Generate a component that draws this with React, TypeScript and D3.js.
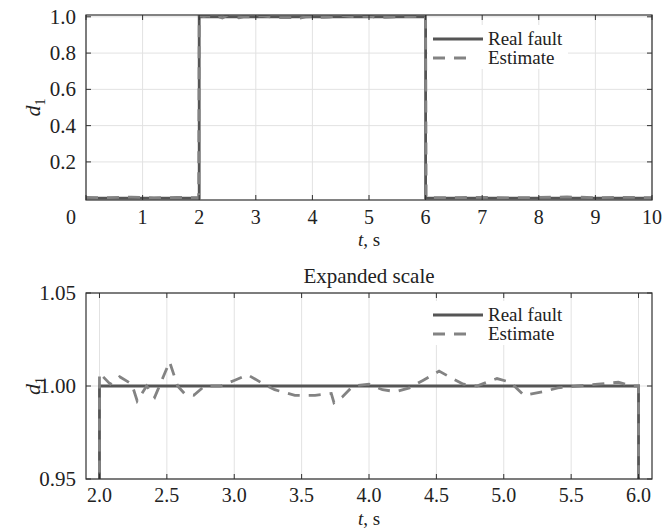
import React from "react";
import * as d3 from "d3";

const realT = [0, 2, 2, 6, 6, 10];
const realV = [0, 0, 1, 1, 0, 0];

const estT = [0, 0.4, 0.8, 1.2, 1.6, 1.99, 2.0, 2.08, 2.15, 2.24, 2.28, 2.35, 2.41, 2.52, 2.58, 2.63, 2.7, 2.78, 2.9, 3.0, 3.1, 3.22, 3.3, 3.45, 3.6, 3.72, 3.74, 3.8, 3.88, 4.0, 4.1, 4.2, 4.3, 4.4, 4.52, 4.62, 4.7, 4.8, 4.95, 5.05, 5.15, 5.3, 5.4, 5.55, 5.7, 5.85, 5.95, 6.0, 6.01, 6.5, 7, 7.5, 8, 8.5, 9, 9.5, 10];
const estV = [0.004, 0.003, 0.006, 0.002, 0.004, 0.003, 1.007, 1.001, 1.005, 1.001, 0.992, 1.0, 0.994, 1.013, 1.0, 0.996, 0.995, 1.0, 1.0, 1.003, 1.006, 1.001, 0.998, 0.995, 0.995, 0.996, 0.991, 0.994, 1.0, 1.001, 0.998, 0.997, 0.999, 1.003, 1.008, 1.004, 1.001, 1.0, 1.004, 1.002, 0.995, 0.997, 0.999, 1.0, 1.001, 1.002, 1.0, 1.0, 0.002, 0.003, 0.005, 0.002, 0.004, 0.007, 0.003, 0.005, 0.003];

const topXTicks = [0, 1, 2, 3, 4, 5, 6, 7, 8, 9, 10];
const topYTicks = [0.2, 0.4, 0.6, 0.8, 1.0];
const botXTicks = [2.0, 2.5, 3.0, 3.5, 4.0, 4.5, 5.0, 5.5, 6.0];
const botYTicks = [0.95, 1.0, 1.05];
const legendLabels = ["Real fault", "Estimate"];
const bottomTitle = "Expanded scale";

const FONT = "'Liberation Serif', Tinos, 'Times New Roman', Times, 'Nimbus Roman', FreeSerif, 'Noto Serif', 'DejaVu Serif', serif";
const REAL_COLOR = "#555555";
const EST_COLOR = "#838383";
const FRAME = "#303030";
const GRID = "#e2e2e2";

type PanelProps = {
  id: string;
  left: number; right: number; top: number; bottom: number;
  xDomain: [number, number]; yDomain: [number, number];
  xTicks: number[]; yTicks: number[];
  xFmt: (v: number) => string; yFmt: (v: number) => string;
  legendY: number;
  zeroShift?: boolean;
  tickDy: number; labelDy: number;
};

function Panel(p: PanelProps) {
  const x = d3.scaleLinear().domain(p.xDomain).range([p.left, p.right]);
  const y = d3.scaleLinear().domain(p.yDomain).range([p.bottom, p.top]);
  const line = d3.line<[number, number]>().x(d => x(d[0])).y(d => y(d[1]));
  const realPts = realT.map((t, i) => [t, realV[i]] as [number, number]);
  const estPts = estT.map((t, i) => [t, estV[i]] as [number, number]);
  const tick = 5;
  const lx = 433;
  return (
    <g>
      <defs>
        <clipPath id={p.id}>
          <rect x={p.left} y={p.top} width={p.right - p.left} height={p.bottom - p.top} />
        </clipPath>
      </defs>
      <rect x={p.left} y={p.top} width={p.right - p.left} height={p.bottom - p.top} fill="#fff" />
      {p.xTicks.map(v => (
        <line key={"gx" + v} x1={x(v)} x2={x(v)} y1={p.top} y2={p.bottom} stroke={GRID} strokeWidth={1} />
      ))}
      {p.yTicks.map(v => (
        <line key={"gy" + v} x1={p.left} x2={p.right} y1={y(v)} y2={y(v)} stroke={GRID} strokeWidth={1} />
      ))}
      <rect x={lx - 5} y={p.legendY - 14} width={140} height={44} fill="#fff" />
      <g clipPath={`url(#${p.id})`}>
        <path d={line(realPts) || ""} fill="none" stroke={REAL_COLOR} strokeWidth={2.8} />
        <path d={line(estPts) || ""} fill="none" stroke={EST_COLOR} strokeWidth={2.8} strokeDasharray="12,9" />
      </g>
      <line x1={lx} x2={lx + 50} y1={p.legendY} y2={p.legendY} stroke={REAL_COLOR} strokeWidth={2.8} />
      <line x1={lx} x2={lx + 40} y1={p.legendY + 19} y2={p.legendY + 19} stroke={EST_COLOR} strokeWidth={2.8} strokeDasharray="12,9" />
      <text x={lx + 55} y={p.legendY + 6} fontSize={19} fill="#222">{legendLabels[0]}</text>
      <text x={lx + 55} y={p.legendY + 25} fontSize={19} fill="#222">{legendLabels[1]}</text>
      <rect x={p.left} y={p.top} width={p.right - p.left} height={p.bottom - p.top} fill="none" stroke={FRAME} strokeWidth={1.2} />
      {p.xTicks.map(v => (
        <g key={"tx" + v}>
          <line x1={x(v)} x2={x(v)} y1={p.bottom} y2={p.bottom - tick} stroke={FRAME} strokeWidth={1} />
          <line x1={x(v)} x2={x(v)} y1={p.top} y2={p.top + tick} stroke={FRAME} strokeWidth={1} />
          <text x={x(v) + (p.zeroShift && v === 0 ? -15 : 0)} y={p.bottom + p.tickDy} textAnchor="middle" fontSize={20} fill="#222">{p.xFmt(v)}</text>
        </g>
      ))}
      {p.yTicks.map(v => (
        <g key={"ty" + v}>
          <line x1={p.left} x2={p.left + tick} y1={y(v)} y2={y(v)} stroke={FRAME} strokeWidth={1} />
          <line x1={p.right} x2={p.right - tick} y1={y(v)} y2={y(v)} stroke={FRAME} strokeWidth={1} />
          <text x={p.left - 10} y={y(v) + 7} textAnchor="end" fontSize={21} fill="#222">{p.yFmt(v)}</text>
        </g>
      ))}
      <text x={(p.left + p.right) / 2} y={p.bottom + p.labelDy} textAnchor="middle" fontSize={19} fill="#222">
        <tspan fontStyle="italic">t</tspan>, s
      </text>
      <text transform={`translate(${p.left - 46},${(p.top + p.bottom) / 2}) rotate(-90)`} textAnchor="middle" fontSize={22} fill="#222">
        <tspan fontStyle="italic">d</tspan><tspan fontSize={14} dy={5}>1</tspan>
      </text>
    </g>
  );
}

export default function App() {
  return (
    <svg width={663} height={531} fontFamily={FONT} style={{ position: "absolute", left: 0, top: 0, background: "#fff", fontFamily: FONT }}>
      <rect x={0} y={0} width={663} height={531} fill="#fff" />
      <Panel id="clipTop" left={86} right={652} top={15} bottom={200}
        xDomain={[0, 10]} yDomain={[-0.01, 1.01]}
        xTicks={topXTicks} yTicks={topYTicks}
        xFmt={v => String(v)} yFmt={v => v.toFixed(1)}
        legendY={39} zeroShift={true} tickDy={24} labelDy={46} />
      <text x={369} y={283} textAnchor="middle" fontSize={21} fill="#222">{bottomTitle}</text>
      <Panel id="clipBot" left={86} right={652} top={293} bottom={479}
        xDomain={[1.9, 6.1]} yDomain={[0.95, 1.05]}
        xTicks={botXTicks} yTicks={botYTicks}
        xFmt={v => v.toFixed(1)} yFmt={v => v.toFixed(2)}
        legendY={315} tickDy={23} labelDy={46} />
    </svg>
  );
}
